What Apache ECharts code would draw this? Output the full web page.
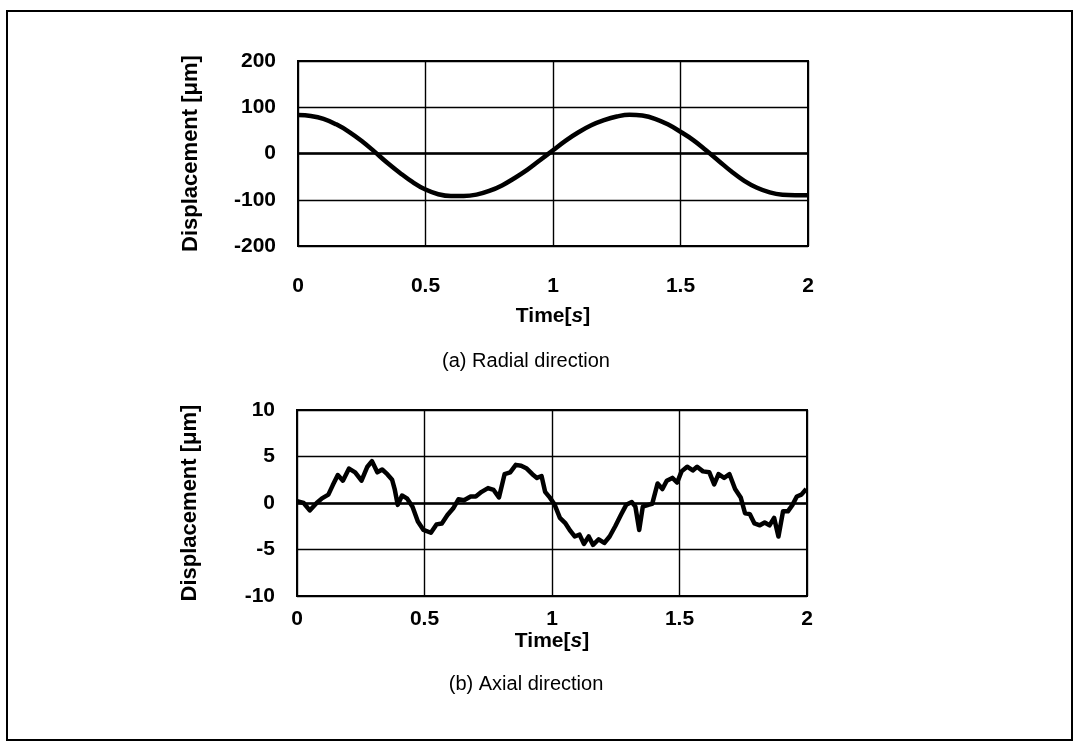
<!DOCTYPE html>
<html>
<head>
<meta charset="utf-8">
<script src="https://cdn.jsdelivr.net/npm/echarts@6/dist/echarts.min.js"></script>
<style>
  html, body { margin: 0; padding: 0; background: #fff; }
  #chart { width: 1079px; height: 749px; }
</style>
</head>
<body>
<div id="chart"></div>
<script>
// (a) radial displacement, read every 0.05 s
var radialTime = [0, 0.05, 0.1, 0.15, 0.2, 0.25, 0.3, 0.35, 0.4, 0.45, 0.5, 0.55, 0.6, 0.65, 0.7, 0.75, 0.8, 0.85, 0.9, 0.95,
  1, 1.05, 1.1, 1.15, 1.2, 1.25, 1.3, 1.35, 1.4, 1.45, 1.5, 1.55, 1.6, 1.65, 1.7, 1.75, 1.8, 1.85, 1.9, 1.95, 2];
var radialDisp = [83, 81, 75, 63, 47, 27, 4, -20, -42, -62, -78, -88, -92, -92, -89, -81, -69, -53, -35, -14,
  7, 28, 46, 61, 72, 80, 84, 82, 75, 63, 47, 29, 7, -16, -39, -59, -74, -84, -89, -90, -90];

// (b) axial displacement
var axialTime = [0, 0.026, 0.05, 0.077, 0.098, 0.123, 0.14, 0.16, 0.18, 0.204, 0.228, 0.253, 0.276, 0.294, 0.315, 0.334, 0.354,
  0.373, 0.383, 0.395, 0.412, 0.431, 0.453, 0.474, 0.496, 0.525, 0.547, 0.568, 0.59, 0.612, 0.633, 0.655, 0.681, 0.701,
  0.724, 0.749, 0.771, 0.792, 0.814, 0.836, 0.858, 0.879, 0.901, 0.923, 0.941, 0.959, 0.973, 0.991, 1.009, 1.031, 1.053,
  1.072, 1.089, 1.108, 1.125, 1.144, 1.161, 1.183, 1.205, 1.226, 1.248, 1.27, 1.291, 1.313, 1.327, 1.342, 1.356, 1.378,
  1.393, 1.414, 1.433, 1.45, 1.472, 1.491, 1.508, 1.53, 1.552, 1.569, 1.592, 1.617, 1.636, 1.653, 1.675, 1.696, 1.718,
  1.74, 1.757, 1.776, 1.794, 1.815, 1.834, 1.853, 1.871, 1.888, 1.906, 1.925, 1.943, 1.96, 1.978, 1.997];
var axialDisp = [0.2, 0, -0.8, 0, 0.5, 0.9, 1.9, 3.0, 2.4, 3.7, 3.3, 2.4, 3.9, 4.5, 3.3, 3.6, 3.1,
  2.5, 1.5, -0.2, 0.8, 0.5, -0.4, -2.0, -2.9, -3.2, -2.3, -2.2, -1.3, -0.6, 0.4, 0.3, 0.7, 0.7,
  1.2, 1.6, 1.4, 0.6, 3.1, 3.3, 4.1, 4.0, 3.7, 3.1, 2.7, 2.9, 1.2, 0.6, -0.1, -1.6, -2.2,
  -3.0, -3.6, -3.4, -4.4, -3.6, -4.5, -3.9, -4.3, -3.6, -2.5, -1.3, -0.2, 0.1, -0.4, -2.9, -0.4, -0.2,
  -0.1, 2.1, 1.5, 2.4, 2.7, 2.2, 3.4, 3.9, 3.5, 3.9, 3.4, 3.3, 2.0, 3.1, 2.7, 3.1, 1.5,
  0.6, -1.1, -1.2, -2.2, -2.4, -2.1, -2.4, -1.6, -3.6, -0.9, -0.9, -0.2, 0.7, 0.9, 1.5];

function pairs(xs, ys) {
  return xs.map(function (x, i) { return [x, ys[i]]; });
}

var font = 'Liberation Sans, Arial, sans-serif';

function xAxisFor(gridIndex, labelMargin, nameGap) {
  return {
    type: 'value', gridIndex: gridIndex, min: 0, max: 2, interval: 0.5,
    axisLine: { show: true, onZero: false, lineStyle: { color: '#000', width: 2 } },
    axisTick: { show: false },
    splitLine: { show: true, lineStyle: { color: '#000', width: 1.4 } },
    axisLabel: { margin: labelMargin, color: '#000', fontSize: 21, fontWeight: 'bold', fontFamily: font },
    name: 'Time[{i|s}]', nameLocation: 'middle', nameGap: nameGap,
    nameTextStyle: { color: '#000', fontSize: 21, fontWeight: 'bold', fontFamily: font,
      rich: { i: { fontStyle: 'italic', fontSize: 21, fontWeight: 'bold', fontFamily: font } } }
  };
}

function yAxisFor(gridIndex, min, max, interval, name) {
  return {
    type: 'value', gridIndex: gridIndex, min: min, max: max, interval: interval,
    axisLine: { show: true, lineStyle: { color: '#000', width: 2 } },
    axisTick: { show: false },
    splitLine: { show: true, lineStyle: { color: '#000', width: 1.4 } },
    axisLabel: { margin: 22, color: '#000', fontSize: 21, fontWeight: 'bold', fontFamily: font },
    name: name, nameLocation: 'middle', nameGap: 96,
    nameTextStyle: { color: '#000', fontSize: 22, fontWeight: 'bold', fontFamily: font }
  };
}

var zeroLine = {
  silent: true, symbol: 'none', label: { show: false },
  lineStyle: { color: '#000', width: 2.6, type: 'solid' },
  data: [{ yAxis: 0 }]
};

var chart = echarts.init(document.getElementById('chart'));
chart.setOption({
  backgroundColor: '#fff',
  animation: false,
  grid: [
    { left: 298, top: 61, width: 510, height: 185, show: true, borderColor: '#000', borderWidth: 2 },
    { left: 297, top: 410, width: 510, height: 186, show: true, borderColor: '#000', borderWidth: 2 }
  ],
  xAxis: [xAxisFor(0, 30, 60), xAxisFor(1, 13, 29)],
  yAxis: [
    yAxisFor(0, -200, 200, 100, 'Displacement [μm]'),
    yAxisFor(1, -10, 10, 5, 'Displacement [μm]')
  ],
  series: [
    {
      type: 'line', xAxisIndex: 0, yAxisIndex: 0, data: pairs(radialTime, radialDisp),
      smooth: 0.4, showSymbol: false, lineStyle: { color: '#000', width: 4.5 }, markLine: zeroLine
    },
    {
      type: 'line', xAxisIndex: 1, yAxisIndex: 1, data: pairs(axialTime, axialDisp),
      showSymbol: false, lineStyle: { color: '#000', width: 4.5, join: 'round' }, markLine: zeroLine
    }
  ],
  graphic: [
    { type: 'rect', shape: { x: 7, y: 11, width: 1065, height: 729 }, style: { fill: 'none', stroke: '#000', lineWidth: 2 }, z: -1 },
    { type: 'text', x: 526, y: 361, style: { text: '(a) Radial direction', fill: '#000', font: '20px ' + font, align: 'center', verticalAlign: 'middle' } },
    { type: 'text', x: 526, y: 684, style: { text: '(b) Axial direction', fill: '#000', font: '20px ' + font, align: 'center', verticalAlign: 'middle' } }
  ]
});
</script>
</body>
</html>
